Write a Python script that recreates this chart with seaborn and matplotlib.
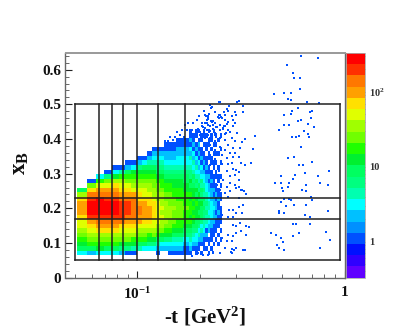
import numpy as np
import pandas as pd
import matplotlib
matplotlib.use("Agg")
import matplotlib.pyplot as plt
from matplotlib.colors import ListedColormap, LogNorm
from matplotlib.ticker import NullFormatter, FixedLocator
import seaborn as sns

# bin edges of the dense region
T_EDGES = [.051,.057,.063,.069,.075,.081,.087,.093,.099,.105,.111,.117,.123,.129,.135,.141,.147,.153,
           .165,.177,.183,.189,.195,.201,.207,.213,.219,.225,.231,.237,.243,.249,.255]
XB_EDGES = [.065,.078,.091,.104,.117,.13,.143,.156,.169,.182,.195,.208,.221,.234,.247,.26,.273,.286,
            .299,.312,.325,.338,.351,.364,.377,.39,.403,.416,.429]

# counts per t-column, from the lowest xB bin upward
COUNTS = [
 [3,8,11,16,22,32,45,45,63,90,90,90,63,32,8],
 [2,8,16,22,32,45,63,90,180,250,250,250,180,125,63,22,1],
 [3,11,16,22,32,63,90,125,180,250,250,250,250,125,90,45,16,3],
 [3,8,16,22,32,63,90,125,180,250,250,250,180,125,90,45,22,6,1],
 [3,8,16,22,32,63,90,125,180,250,250,250,180,125,90,63,32,11,3,1],
 [2,6,11,22,32,45,63,125,180,180,180,180,125,90,63,45,32,16,4,1],
 [1,6,11,22,32,45,63,90,125,180,180,180,125,90,63,45,22,16,8,2,1],
 [1,4,11,16,32,45,63,90,125,125,125,125,125,90,45,32,22,16,11,3,1],
 [0,4,8,16,22,32,45,90,90,125,125,90,63,63,45,32,22,16,11,6,2,1],
 [0,3,8,16,22,32,45,63,90,90,90,90,63,45,45,32,22,16,11,8,3,1],
 [0,3,6,11,16,32,45,63,90,90,90,63,63,45,32,32,22,16,11,8,4,2,1],
 [0,3,6,11,22,32,45,45,63,63,63,63,45,32,32,22,22,16,11,8,4,3,2,1],
 [1,2,4,8,16,22,32,45,45,45,45,45,32,32,22,22,16,11,8,6,4,3,2,1],
 [0,2,3,8,11,22,32,32,45,32,45,32,32,32,22,16,16,11,8,6,4,3,2,1],
 [0,2,3,6,11,16,22,32,32,32,32,32,22,22,16,16,11,8,6,4,3,2,2,1,1],
 [1,2,3,6,11,16,22,22,32,32,32,22,22,22,16,16,11,8,6,4,3,2,2,1,1],
 [1,2,3,4,8,11,16,22,22,22,32,22,22,16,16,11,11,8,6,4,3,2,2,1,1],
 [1,2,3,4,8,11,16,16,22,22,22,22,16,16,16,11,11,8,6,4,3,3,2,2,1,1],
 [1,1,2,3,6,8,11,16,16,16,22,16,16,16,11,11,8,8,6,4,3,3,2,2,1,1],
 [1,2,3,4,6,8,11,16,11,16,16,16,11,16,11,8,11,6,6,4,3,4,2,3,1,2,1,1],
 [0,1,2,3,4,6,8,11,16,11,16,11,16,11,11,8,6,8,4,3,4,2,3,1,2,1,1,0],
 [1,1,2,3,3,6,8,8,11,11,11,16,11,8,11,6,8,4,3,4,2,3,1,2,1,0,1,1],
 [0,1,1,2,4,3,6,8,11,8,11,11,8,11,6,8,4,4,3,2,3,1,2,1,2,1,0,1],
 [1,0,1,2,2,4,3,6,8,8,8,11,8,6,8,4,6,3,2,3,1,2,1,1,0,1,1,0],
 [0,1,1,1,2,3,4,4,6,6,8,6,8,4,6,4,3,3,2,1,2,1,1,0,1,0,1,1],
 [0,1,0,1,2,1,3,4,4,6,4,6,4,4,3,3,2,2,1,2,1,1,0,1,1,0,1,0],
 [1,0,1,1,0,2,2,3,4,3,4,4,3,3,2,2,1,2,1,1,0,1,1,0,1,1,0,1],
 [0,1,0,1,1,1,2,2,3,3,3,3,2,2,2,1,2,1,1,0,1,1,0,1,0,1,1,0],
 [0,0,1,0,1,1,1,2,2,2,3,2,2,1,2,1,1,1,0,1,1,0,1,0,1,0,0,1],
 [0,0,0,1,0,1,1,1,2,1,2,2,1,2,1,1,0,1,1,0,1,0,1,0,1,0,1,0],
 [0,0,1,0,1,0,1,1,1,2,1,1,2,1,1,0,1,1,0,1,0,0,1,0,0,1,0,0],
 [0,0,0,1,0,1,0,1,1,1,1,0,1,1,0,1,0,1,0,0,1,0,0,1,0,0,1,0],
]

# isolated single-count events
T_SPARSE = [.615,.742,.526,.564,.57,.608,.608,.456,.513,.551,.534,.551,.66,.75,.595,.555,.551,.513,.682,.70,
 .69,.615,.595,.67,.715,.513,.54,.48,.635,.665,.60,.58,.555,.675,.615,.534,.57,.70,.60,.63,.645,.84,.575,.495,
 .742,.564,.46,.495,.54,.76,.83,.654,.50,.534,.505,.62,.65,.69,.70,.495,.513,.537,.551,.573,.654,.52,.485,.48,
 .513,.83,.645,.68,.564,.58,.682,.81,.442,.465,.60,.564,.495,.85,.505,.47,.48,.513,.76,
 .3076,.303,.2475,.251,.2245,.277,.322,.271,.23,.263,.2375,.2965,.322,.274,.2475,.266,.285,.30,.22,.255,.29,.216,
 .2325,.266,.2965,.275,.251,.2245,.29,.266,.2325,.251,.216,.275,.303,.2375,.266,.22,.33,.37,.285,.251,.32,.2965,
 .2375,.266,.275,.2245,.251,.314,.361,.29,.266,.2375,.2805,.2965,.255,.2245,.3076,.29,.271,.2375,.315,.33,.352,
 .285,.255,.275,.2245,.29,.30,.3076,.271,.2475,.2805,.2965,.3076,.26,.2805,.2965,.32,.271,.241,.3076,
 .318,.326,.335,.2985,.2805,.266,.251,.3076,.275,.322,.3076,.29,.32,.30,.277,.255,.275,.29,.314,.335,.346,.29,.30,
 .318,.336,.30,.275,.29,.255,.271,.285,.30,.33,.283,.266,.251,.2325,.218,.285,.294,.183,.197,.208,.2325,.2195,.285,.325,
 .176,.17,.194,.199,.212,.22,.229,.186,.205,.216,.155,.164,.173,.183,.197,.212,.2245,.144,.152,.161,.167,.18,.19,.2,
 .212,.2245,.2375,.136,.141,.149,.158,.166,
 .205,.212,.218,.226,.232,.24,.248,.258,.214,.222,.23,.243,.254,.262,.27,.2,.207,.218,.236,.25,.26,.279,.21,.226,.245,.268]
XB_SPARSE = [.638,.633,.612,.590,.577,.577,.543,.530,.534,.534,.516,.512,.508,.504,.490,.482,.473,.469,.478,.482,
 .460,.456,.451,.443,.434,.439,.439,.427,.422,.413,.410,.405,.405,.405,.378,.344,.348,.335,.326,.326,.301,.309,.297,.292,
 .292,.284,.272,.272,.272,.272,.266,.266,.258,.262,.249,.254,.249,.232,.223,.218,.227,.227,.223,.209,.209,.206,.193,.188,
 .188,.193,.180,.175,.154,.154,.154,.132,.129,.124,.129,.119,.115,.11,.102,.093,.085,.081,.085,
 .511,.508,.508,.508,.499,.495,.495,.487,.491,.478,.478,.478,.478,.482,.469,.469,.465,.469,.465,.46,.455,.455,
 .452,.455,.446,.448,.441,.438,.438,.438,.429,.427,.427,.427,.417,.412,.415,.412,.4,.409,.402,.402,.391,.395,
 .393,.396,.383,.383,.378,.375,.371,.374,.369,.369,.359,.359,.354,.354,.347,.347,.344,.341,.33,.326,.33,
 .332,.328,.328,.325,.313,.31,.305,.307,.307,.292,.297,.283,.283,.272,.267,.254,.263,.268,.263,
 .253,.249,.241,.258,.249,.244,.253,.23,.234,.21,.205,.196,.188,.186,.196,.182,.176,.175,.158,.148,.145,.153,.148,
 .134,.124,.129,.124,.119,.114,.105,.107,.085,.08,.073,.085,.071,.073,.066,.084,.08,.063,.071,.066,.071,.066,.071,.08,
 .445,.44,.455,.465,.47,.46,.45,.445,.445,.445,.421,.427,.427,.427,.429,.431,.422,.407,.407,.412,.407,.417,.407,.412,
 .402,.402,.417,.393,.393,.398,.398,.393,
 .437,.447,.44,.452,.441,.436,.46,.43,.466,.472,.448,.435,.462,.437,.443,.42,.434,.458,.446,.47,.433,.421,.48,.49,.462,.416]

# selection grid
T_LINES = [.05,.065,.075,.085,.1,.125,.17,.95]
XB_LINES = [.05,.17,.23,.5]

# colour scale, lowest band first
BAND_COLORS = ["#6000ff","#3000ff","#0010ff","#0050ff","#0090ff","#00c0ff","#00ffff","#00ffb0","#00ff80","#00ff60",
               "#00f030","#20ff00","#70ff00","#a0ff00","#e0ff00","#ffe000","#ffa000","#ff7800","#ff3000","#ff0000"]
Z_MIN, Z_MAX = 0.33, 331

XB_MAJOR = [0,.1,.2,.3,.4,.5,.6]
XB_LABELS = ["0","0.1","0.2","0.3","0.4","0.5","0.6"]
T_MAJOR = [.1,1]
T_LABELS = ["10$^{\\mathrm{-1}}$","1"]
T_MINOR = [.05,.06,.07,.08,.09,.2,.3,.4,.5,.6,.7,.8,.9]

sns.set_theme(style="ticks")
plt.rcParams.update({
    "font.family": ["Liberation Serif", "DejaVu Serif"],
    "font.weight": "bold",
    "mathtext.fontset": "custom",
    "mathtext.rm": "Liberation Serif:bold",
    "mathtext.it": "Liberation Serif:bold",
    "mathtext.bf": "Liberation Serif:bold",
    "mathtext.default": "rm",
})

W, H = 410, 331
fig = plt.figure(figsize=(W/100, H/100), dpi=100, facecolor="white")
ax = fig.add_axes([65.5/W, (H-277.7)/H, 279/W, 224.7/H])

rows = []
for i, col in enumerate(COUNTS):
    for j, n in enumerate(col):
        if n > 0:
            rows.append(((T_EDGES[i]*T_EDGES[i+1])**.5, (XB_EDGES[j]+XB_EDGES[j+1])/2, n))
df = pd.DataFrame(rows, columns=["t", "xb", "n"])

cmap = ListedColormap(BAND_COLORS)
sns.histplot(data=df, x="t", y="xb", weights="n",
             bins=[np.log10(T_EDGES), XB_EDGES], log_scale=(True, False),
             cmap=cmap, thresh=0, ax=ax, cbar=False, zorder=1)
mesh = ax.collections[0]
norm = LogNorm(Z_MIN, Z_MAX)
mesh.set_norm(norm)
mesh.set_antialiased(False)

sparse = pd.DataFrame({"t": T_SPARSE, "xb": XB_SPARSE})
sns.scatterplot(data=sparse, x="t", y="xb", ax=ax, marker="s", s=2.8, color="#0050ff", linewidth=0, zorder=2)

LINE = "#202020"
for t in T_LINES:
    ax.plot([t, t], [XB_LINES[0], XB_LINES[-1]], color=LINE, lw=1.1, zorder=3, solid_capstyle="projecting")
for y in XB_LINES:
    ax.plot([T_LINES[0], T_LINES[-1]], [y, y], color=LINE, lw=1.1, zorder=3, solid_capstyle="projecting")

ax.set_xscale("log")
ax.set_xlim(.0449, 1)
ax.set_ylim(0, .648)
ax.xaxis.set_major_locator(FixedLocator(T_MAJOR))
ax.xaxis.set_minor_locator(FixedLocator(T_MINOR))
ax.xaxis.set_minor_formatter(NullFormatter())
ax.set_xticklabels(T_LABELS)
ax.set_yticks(XB_MAJOR)
ax.set_yticklabels(XB_LABELS)
ax.yaxis.set_minor_locator(FixedLocator(np.arange(0, .65, .02).round(2).tolist()))
ax.tick_params(which="major", direction="in", length=5.2, width=.8, color="#222222", labelsize=11, pad=3, labelcolor="#111111")
ax.tick_params(which="minor", direction="in", length=2.6, width=.7, color="#666666")
ax.tick_params(axis="x", which="major", pad=6, labelsize=11)
for s, sp in ax.spines.items():
    sp.set_visible(True)
    sp.set_linewidth(1.0)
    sp.set_color("#666666")
ax.spines["top"].set_color("#999999")
ax.spines["top"].set_linewidth(1.4)
ax.set_xlabel("-t [GeV$^{\\mathrm{2}}$]", fontsize=15, fontweight="bold", labelpad=2, color="#111111")
ax.set_ylabel("x$_{\\mathrm{B}}$", fontsize=16.5, fontweight="bold", labelpad=8, color="#111111", y=.51)

cax = fig.add_axes([346/W, (H-277.7)/H, 19/W, 224.7/H])
sm = plt.cm.ScalarMappable(norm=norm, cmap=cmap)
cb = fig.colorbar(sm, cax=cax)
cb.outline.set_edgecolor("#aaaaaa")
cb.outline.set_linewidth(.6)
cb.set_ticks([1, 10, 100])
cb.set_ticklabels(["1", "10", "10$^{\\mathrm{2}}$"])
cb.ax.tick_params(which="major", direction="in", length=6, width=.7, color="#333333", labelsize=7.5, pad=3, labelcolor="#333333")
cb.ax.tick_params(which="minor", direction="in", length=3, width=.6, color="#333333")

fig.savefig("out.png", dpi=100)
